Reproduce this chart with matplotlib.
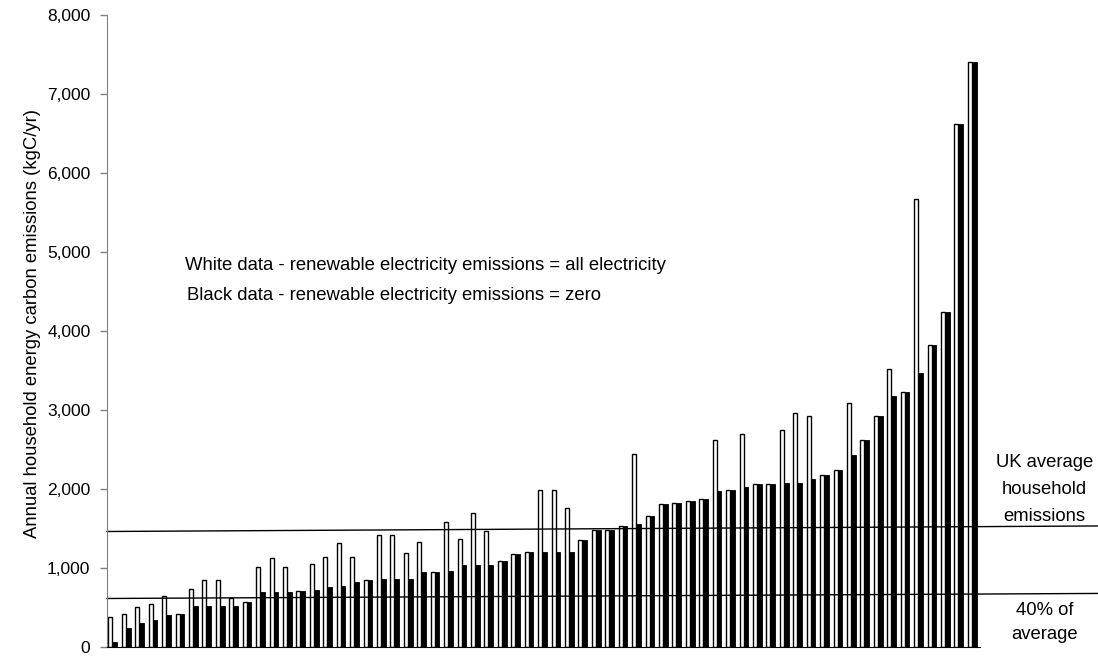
import numpy as np
import matplotlib
matplotlib.use('Agg')
import matplotlib.pyplot as plt
from matplotlib.ticker import FuncFormatter

plt.rcParams['font.family'] = ['Liberation Sans', 'DejaVu Sans']

# household emissions, white = renewable electricity counted as all electricity,
# black = renewable electricity counted as zero
white = [380, 420, 510, 545, 653, 418, 738, 852, 852, 628,
         570, 1020, 1134, 1020, 713, 1058, 1139, 1320, 1139, 852,
         1418, 1418, 1200, 1333, 960, 1587, 1378, 1700, 1475, 1099,
         1184, 1209, 1990, 1990, 1768, 1355, 1481, 1481, 1532, 2448,
         1658, 1810, 1828, 1848, 1879, 2630, 1993, 2706, 2064, 2064,
         2756, 2962, 2924, 2177, 2250, 3097, 2620, 2928, 3520, 3229,
         5675, 3833, 4251, 6628, 7412]
black = [70, 248, 316, 350, 413, 418, 519, 519, 519, 519,
         570, 696, 696, 696, 713, 729, 770, 780, 835, 852,
         869, 869, 869, 960, 960, 973, 1042, 1042, 1042, 1099,
         1184, 1209, 1213, 1213, 1213, 1355, 1481, 1481, 1532, 1562,
         1658, 1810, 1828, 1848, 1879, 1980, 1993, 2031, 2064, 2064,
         2081, 2081, 2132, 2177, 2250, 2435, 2620, 2928, 3187, 3229,
         3468, 3833, 4251, 6628, 7412]

# reference lines (drawn slightly sloped in the original)
uk_avg = (1468, 1538)
forty_pct = (620, 684)

fig = plt.figure(figsize=(10.98, 6.58), dpi=100)
ax = fig.add_axes([0.0975, 0.016, 0.795, 0.9605])

x = np.arange(len(white))
ax.bar(x - 0.25, white, width=0.3, color='white', edgecolor='black', linewidth=1.0)
ax.bar(x + 0.075, black, width=0.35, color='black', edgecolor='black', linewidth=0.6)

ax.set_xlim(-0.5, len(white) - 0.5)
ax.set_ylim(0, 8000)
ax.set_yticks(range(0, 8001, 1000))
ax.yaxis.set_major_formatter(FuncFormatter(lambda v, p: f'{int(v):,}'))
ax.tick_params(axis='y', labelsize=12.5, length=5, width=1, color='#808080', pad=7)
ax.set_xticks([])

for s in ['top', 'right']:
    ax.spines[s].set_visible(False)
ax.spines['left'].set_color('#808080')
ax.spines['bottom'].set_color('black')

ax.set_ylabel('Annual household energy carbon emissions (kgC/yr)', fontsize=13.3)
ax.yaxis.set_label_coords(-0.076, 0.512)

tr = ax.get_yaxis_transform()
ax.plot([0, 1.135], uk_avg, color='black', lw=1, transform=tr, clip_on=False)
ax.plot([0, 1.135], forty_pct, color='black', lw=1, transform=tr, clip_on=False)

ax.text(1.074, 2000, 'UK average\nhousehold\nemissions', transform=tr, ha='center',
        va='center', fontsize=13.3, linespacing=1.8)
ax.text(1.074, 318, '40% of\naverage', transform=tr, ha='center', va='center',
        fontsize=13.3, linespacing=1.55)

ax.text(0.089, 4830, 'White data - renewable electricity emissions = all electricity',
        transform=tr, fontsize=13.3, va='center')
ax.text(0.0915, 4460, 'Black data - renewable electricity emissions = zero',
        transform=tr, fontsize=13.3, va='center')

fig.savefig('out.png', dpi=100)
